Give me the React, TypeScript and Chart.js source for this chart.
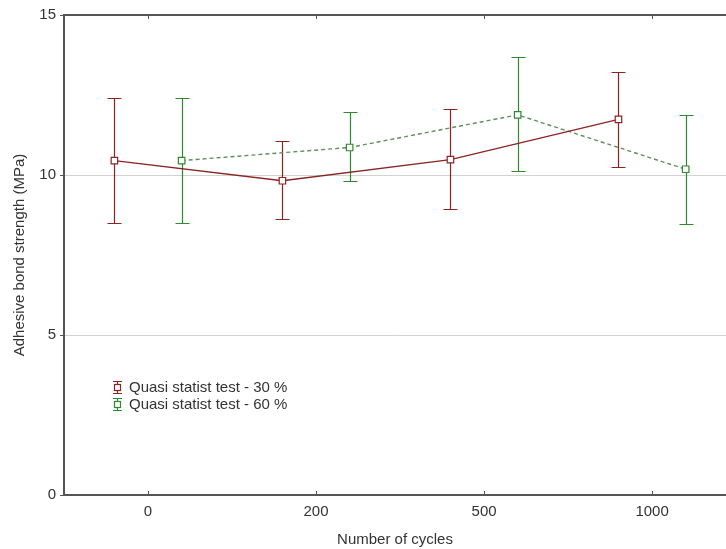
import { useEffect, useRef } from 'react';
import { Chart, registerables } from 'chart.js';

Chart.register(...registerables);

const categories = ['0', '200', '500', '1000'];
const yTicks = [0, 5, 10, 15];
const seriesLabels = ['Quasi statist test - 30 %', 'Quasi statist test - 60 %'];

const mean30 = [10.45, 9.82, 10.48, 11.74];
const low30 = [8.5, 8.63, 8.93, 10.24];
const high30 = [12.4, 11.06, 12.05, 13.23];

const mean60 = [10.45, 10.86, 11.88, 10.18];
const low60 = [8.5, 9.8, 10.13, 8.46];
const high60 = [12.4, 11.98, 13.68, 11.89];

const RED = '#8c2424';
const GREEN = '#2f8a2f';
const GREEN_LINE = '#5e8f5e';
const AXIS = '#555555';
const TEXT = '#333333';
const FONT = { family: 'Arial, "Liberation Sans", sans-serif', size: 15 };

const seriesDefs = [
  { label: seriesLabels[0], mean: mean30, low: low30, high: high30, offset: -0.2, color: RED, lineColor: RED, dash: [] as number[] },
  { label: seriesLabels[1], mean: mean60, low: low60, high: high60, offset: 0.2, color: GREEN, lineColor: GREEN_LINE, dash: [4, 3] },
];

const customPlugin = {
  id: 'customDecor',
  beforeDatasetsDraw(chart: any) {
    const { ctx, scales } = chart;
    const x = scales.x;
    const y = scales.y;
    ctx.save();
    seriesDefs.forEach((s) => {
      ctx.strokeStyle = s.color;
      ctx.lineWidth = 1.2;
      ctx.setLineDash([]);
      s.mean.forEach((_m, i) => {
        const px = Math.round(x.getPixelForValue(i + s.offset)) + 0.5;
        const pl = Math.round(y.getPixelForValue(s.low[i])) + 0.5;
        const ph = Math.round(y.getPixelForValue(s.high[i])) + 0.5;
        ctx.beginPath();
        ctx.moveTo(px, pl);
        ctx.lineTo(px, ph);
        ctx.moveTo(px - 7, pl);
        ctx.lineTo(px + 7, pl);
        ctx.moveTo(px - 7, ph);
        ctx.lineTo(px + 7, ph);
        ctx.stroke();
      });
    });
    ctx.restore();
  },
  afterDraw(chart: any) {
    const { ctx, chartArea, scales } = chart;
    const x = scales.x;
    ctx.save();
    ctx.strokeStyle = AXIS;
    ctx.lineWidth = 2;
    ctx.beginPath();
    ctx.moveTo(chartArea.left - 1, chartArea.top);
    ctx.lineTo(chartArea.right, chartArea.top);
    ctx.stroke();
    ctx.lineWidth = 1;
    categories.forEach((_c, i) => {
      const px = Math.round(x.getPixelForValue(i)) + 0.5;
      ctx.beginPath();
      ctx.moveTo(px, chartArea.top);
      ctx.lineTo(px, chartArea.top + 4);
      ctx.moveTo(px, chartArea.bottom);
      ctx.lineTo(px, chartArea.bottom - 4);
      ctx.stroke();
    });
    const lx = chartArea.left + 53.5;
    const ty = chartArea.top + 372;
    ctx.font = `${FONT.size}px ${FONT.family}`;
    ctx.textBaseline = 'middle';
    ctx.textAlign = 'left';
    seriesDefs.forEach((s, k) => {
      const cy = Math.round(ty + k * 17) + 0.5;
      ctx.strokeStyle = s.color;
      ctx.lineWidth = 1.2;
      ctx.beginPath();
      ctx.moveTo(lx - 4.5, cy - 6);
      ctx.lineTo(lx + 4.5, cy - 6);
      ctx.moveTo(lx - 4.5, cy + 6);
      ctx.lineTo(lx + 4.5, cy + 6);
      ctx.moveTo(lx, cy - 6);
      ctx.lineTo(lx, cy + 6);
      ctx.stroke();
      ctx.fillStyle = '#ffffff';
      ctx.fillRect(lx - 3, cy - 3, 6, 6);
      ctx.strokeRect(lx - 3, cy - 3, 6, 6);
      ctx.fillStyle = TEXT;
      ctx.fillText(s.label, lx + 11.5, cy);
    });
    ctx.restore();
  },
};

export default function App() {
  const ref = useRef<HTMLCanvasElement | null>(null);

  useEffect(() => {
    document.body.style.margin = '0';
    if (!ref.current) return;
    const chart = new Chart(ref.current, {
      type: 'line',
      data: {
        datasets: seriesDefs.map((s) => ({
          label: s.label,
          data: s.mean.map((m, i) => ({ x: i + s.offset, y: m })),
          borderColor: s.lineColor,
          borderWidth: 1.4,
          borderDash: s.dash,
          pointStyle: 'rect',
          pointRadius: 4.6,
          pointBorderWidth: 1.2,
          pointBorderColor: s.color,
          pointBackgroundColor: '#ffffff',
          tension: 0,
          fill: false,
        })),
      },
      options: {
        responsive: false,
        animation: false,
        layout: { autoPadding: false, padding: { left: 0, right: 0, top: 15, bottom: 0 } },
        plugins: { legend: { display: false }, tooltip: { enabled: false } },
        scales: {
          x: {
            type: 'linear',
            min: -0.5,
            max: 3.44,
            afterBuildTicks: (s: any) => {
              s.ticks = categories.map((_c, i) => ({ value: i }));
            },
            afterFit: (s: any) => {
              s.height = 54;
              s.paddingLeft = 0;
              s.paddingRight = 0;
            },
            ticks: {
              autoSkip: false,
              maxRotation: 0,
              padding: 8,
              color: TEXT,
              font: FONT,
              callback: (v: any) => categories[v as number] ?? '',
            },
            grid: { drawOnChartArea: false, drawTicks: false },
            border: { display: true, color: AXIS, width: 2 },
            title: {
              display: true,
              text: 'Number of cycles',
              color: TEXT,
              font: FONT,
              padding: { top: 0, bottom: 0 },
            },
          },
          y: {
            min: 0,
            max: 15,
            afterBuildTicks: (s: any) => {
              s.ticks = yTicks.map((v) => ({ value: v }));
            },
            afterFit: (s: any) => {
              s.width = 64;
            },
            ticks: { padding: 4, color: TEXT, font: FONT },
            grid: {
              color: (c: any) => (c.tick && (c.tick.value === 5 || c.tick.value === 10) ? '#d2d2d2' : 'rgba(0,0,0,0)'),
              tickColor: AXIS,
              tickLength: 4,
              lineWidth: 1,
            },
            border: { display: true, color: AXIS, width: 2 },
            title: {
              display: true,
              text: 'Adhesive bond strength (MPa)',
              color: TEXT,
              font: FONT,
              padding: { top: 11, bottom: 0 },
            },
          },
        },
      },
      plugins: [customPlugin],
    });
    return () => chart.destroy();
  }, []);

  return (
    <div style={{ width: 726, height: 549 }}>
      <canvas ref={ref} width={726} height={549} style={{ display: 'block' }} />
    </div>
  );
}
